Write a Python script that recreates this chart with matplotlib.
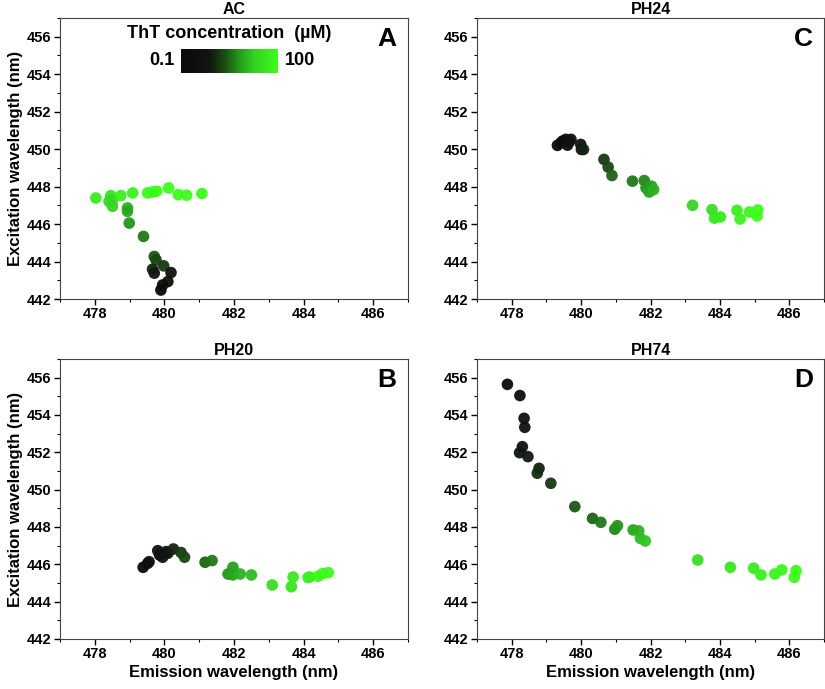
import numpy as np
import matplotlib
matplotlib.use('Agg')
import matplotlib.pyplot as plt
from matplotlib.colors import LinearSegmentedColormap, LogNorm
from matplotlib.ticker import MultipleLocator

plt.rcParams['font.family'] = ['Liberation Sans', 'DejaVu Sans']
plt.rcParams['font.weight'] = 'bold'

# emission (x), excitation (y) maxima and ThT concentration (uM) for each point
ac_em = [478.03, 478.46, 478.51, 478.41, 478.51, 478.75, 479.09, 479.52, 479.66, 479.78,
         480.12, 480.40, 480.64, 481.08, 478.94, 478.94, 478.99, 479.40, 479.71, 479.76,
         479.98, 479.66, 479.71, 480.19, 480.10, 479.95, 479.90]
ac_ex = [447.39, 447.52, 447.30, 447.21, 446.95, 447.52, 447.66, 447.66, 447.71, 447.75,
         447.93, 447.57, 447.54, 447.63, 446.86, 446.68, 446.05, 445.34, 444.27, 444.09,
         443.77, 443.59, 443.38, 443.41, 442.93, 442.75, 442.48]
ac_c = [50, 40, 30, 25, 20, 60, 70, 80, 80, 90,
        100, 100, 100, 100, 10, 8, 6, 4, 2.5, 2,
        1.5, 1, 0.8, 0.5, 0.3, 0.2, 0.1]

ph20_em = [479.39, 479.52, 479.56, 479.81, 479.86, 479.95, 480.05, 480.10, 480.26, 480.48,
           480.58, 481.17, 481.37, 481.83, 481.97, 481.97, 482.18, 482.50, 483.10, 483.65,
           483.70, 484.13, 484.18, 484.42, 484.55, 484.71]
ph20_ex = [445.84, 446.05, 446.14, 446.73, 446.50, 446.38, 446.68, 446.59, 446.82, 446.63,
           446.38, 446.11, 446.20, 445.48, 445.84, 445.43, 445.48, 445.43, 444.89, 444.80,
           445.32, 445.29, 445.32, 445.36, 445.50, 445.55]
ph20_c = [0.1, 0.2, 0.3, 0.5, 0.4, 0.6, 0.7, 0.8, 1, 1.5,
          2, 3, 4, 6, 7, 8, 10, 12, 30, 40,
          50, 60, 70, 80, 90, 100]

ph24_em = [479.32, 479.42, 479.47, 479.56, 479.61, 479.71, 479.66, 479.99, 480.01, 480.07,
           480.66, 480.78, 480.89, 481.48, 481.82, 481.87, 482.03, 481.96, 482.09, 483.21,
           483.77, 483.84, 484.01, 484.49, 484.58, 484.85, 485.09, 485.07]
ph24_ex = [450.20, 450.34, 450.43, 450.52, 450.21, 450.52, 450.38, 450.25, 449.98, 449.98,
           449.45, 449.04, 448.59, 448.29, 448.32, 447.93, 448.02, 447.71, 447.84, 447.00,
           446.77, 446.32, 446.38, 446.73, 446.27, 446.64, 446.75, 446.43]
ph24_c = [0.1, 0.15, 0.2, 0.25, 0.3, 0.4, 0.5, 0.7, 0.8, 1,
          1.5, 2, 3, 4, 5, 6, 7, 8, 10, 20,
          30, 40, 50, 60, 70, 80, 90, 100]

ph74_em = [477.88, 478.24, 478.36, 478.38, 478.31, 478.23, 478.47, 478.79, 478.74, 479.13,
           479.82, 480.33, 480.57, 480.97, 481.05, 481.50, 481.66, 481.71, 481.85, 483.36,
           484.30, 484.97, 485.18, 485.58, 485.78, 486.19, 486.14]
ph74_ex = [455.64, 455.04, 453.82, 453.34, 452.30, 451.98, 451.77, 451.14, 450.88, 450.34,
           449.09, 448.46, 448.25, 447.88, 448.07, 447.84, 447.79, 447.39, 447.25, 446.23,
           445.84, 445.79, 445.43, 445.48, 445.70, 445.66, 445.30]
ph74_c = [0.1, 0.2, 0.3, 0.4, 0.5, 0.6, 0.8, 1, 1.2, 1.5,
          2.5, 3, 4, 5, 6, 8, 10, 12, 15, 30,
          40, 50, 60, 70, 80, 90, 100]

cmap = LinearSegmentedColormap.from_list(
    'tht', [(0, '#0a0a0a'), (0.3, '#111611'), (0.45, '#1a4d12'), (0.6, '#249a1a'),
            (0.75, '#33d022'), (1, '#3aff1a')])
norm = LogNorm(0.1, 100)

fig = plt.figure(figsize=(8.25, 6.89), dpi=100)
pos = {'A': [0.0727, 0.566, 0.4218, 0.408], 'C': [0.578, 0.566, 0.421, 0.408],
       'B': [0.0727, 0.0726, 0.4218, 0.4064], 'D': [0.578, 0.0726, 0.421, 0.4064]}
panels = [('A', 'AC', ac_em, ac_ex, ac_c),
          ('C', 'PH24', ph24_em, ph24_ex, ph24_c),
          ('B', 'PH20', ph20_em, ph20_ex, ph20_c),
          ('D', 'PH74', ph74_em, ph74_ex, ph74_c)]

for letter, title, em, ex, conc in panels:
    ax = fig.add_axes(pos[letter])
    ax.scatter(em, ex, c=conc, cmap=cmap, norm=norm, s=70, edgecolors='none', alpha=0.95)
    ax.set_xlim(477, 487)
    ax.set_ylim(442, 457)
    ax.xaxis.set_major_locator(MultipleLocator(2))
    ax.xaxis.set_minor_locator(MultipleLocator(1))
    ax.yaxis.set_major_locator(MultipleLocator(2))
    ax.yaxis.set_minor_locator(MultipleLocator(1))
    ax.tick_params(which='major', direction='out', length=4, width=1, labelsize=10.5, pad=2)
    ax.tick_params(which='minor', direction='out', length=2.5, width=0.8)
    for lab in ax.get_xticklabels() + ax.get_yticklabels():
        lab.set_fontweight('bold')
    for sp in ax.spines.values():
        sp.set_color('#444444')
    ax.set_title(title, fontsize=11.5, fontweight='bold', pad=3)
    ax.text(0.94, 0.925, letter, transform=ax.transAxes, fontsize=19, fontweight='bold',
            ha='center', va='center')
    if letter in ('A', 'B'):
        ax.set_ylabel('Excitation wavelength (nm)', fontsize=12, fontweight='bold', labelpad=3)
    if letter in ('B', 'D'):
        ax.set_xlabel('Emission wavelength (nm)', fontsize=12, fontweight='bold', labelpad=3)
    if letter == 'A':
        cax = ax.inset_axes([0.348, 0.804, 0.279, 0.086])
        sm = plt.cm.ScalarMappable(norm=norm, cmap=cmap)
        cb = fig.colorbar(sm, cax=cax, orientation='horizontal')
        cb.set_ticks([])
        cb.minorticks_off()
        cax.tick_params(which='both', length=0)
        cb.outline.set_visible(False)
        ax.text(0.486, 0.943, 'ThT concentration  (\u00b5M)', transform=ax.transAxes,
                fontsize=13, fontweight='bold', ha='center', va='center')
        ax.text(0.33, 0.847, '0.1', transform=ax.transAxes, fontsize=13,
                fontweight='bold', ha='right', va='center')
        ax.text(0.645, 0.847, '100', transform=ax.transAxes, fontsize=13,
                fontweight='bold', ha='left', va='center')

fig.savefig('out.png', dpi=100)
